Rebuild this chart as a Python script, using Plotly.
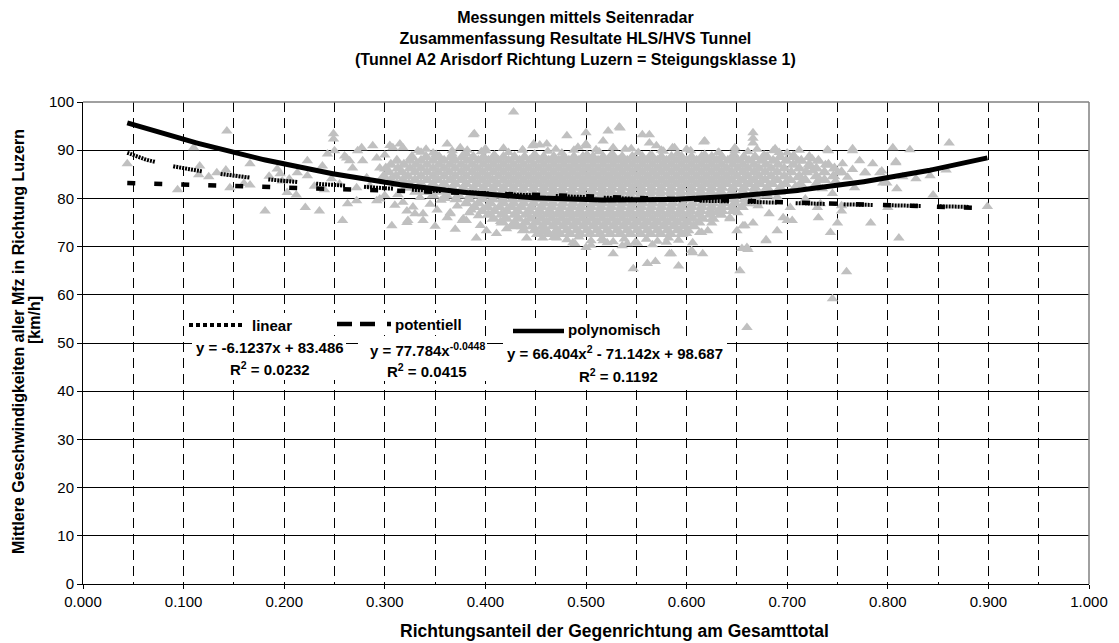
import numpy as np
import plotly.graph_objects as go

# ---------------------------------------------------------------------------
# Messwerte: Richtungsanteil der Gegenrichtung (x) und mittlere Geschwindigkeit
# aller Mfz in Richtung Luzern in km/h (y)
# ---------------------------------------------------------------------------

# vereinzelte Messungen links der Hauptwolke
punkte_links = [
    (0.044, 87.2), (0.094, 81.8), (0.110, 90.5), (0.115, 84.9), (0.116, 86.7),
    (0.125, 84.5), (0.133, 85.3), (0.142, 85.9), (0.143, 94.0), (0.146, 82.2),
    (0.160, 83.1), (0.166, 87.2), (0.166, 82.8), (0.181, 77.4), (0.185, 84.6),
    (0.193, 86.1), (0.196, 85.1), (0.198, 83.6), (0.203, 81.2), (0.205, 84.0),
    (0.212, 80.7), (0.213, 85.3), (0.221, 78.1), (0.223, 87.8), (0.223, 84.7),
    (0.230, 82.5), (0.235, 77.4), (0.238, 86.7), (0.240, 81.8), (0.243, 89.2),
    (0.247, 84.1), (0.249, 93.4), (0.249, 92.3), (0.250, 89.9), (0.255, 83.0),
    (0.258, 75.4), (0.260, 88.8), (0.262, 88.4), (0.263, 78.9), (0.265, 87.8),
    (0.268, 86.3), (0.272, 79.5), (0.272, 82.2), (0.273, 89.9), (0.277, 90.5),
    (0.278, 87.8), (0.282, 84.3), (0.285, 82.6), (0.288, 90.9), (0.292, 88.4),
    (0.292, 79.5), (0.295, 86.3), (0.295, 79.9), (0.300, 80.6), (0.300, 89.0),
    (0.305, 91.0),
]

# lockere Messungen unterhalb der Trendlinien zwischen 0.30 und 0.47
punkte_unten_links = [
    (0.307, 74.3), (0.310, 78.6), (0.313, 80.8), (0.318, 79.2), (0.322, 77.4),
    (0.322, 75.0), (0.323, 75.4), (0.328, 78.2), (0.330, 76.8), (0.335, 80.2),
    (0.338, 75.4), (0.338, 76.8), (0.345, 78.8), (0.345, 81.2), (0.350, 74.2),
    (0.352, 77.6), (0.356, 79.6), (0.360, 80.0), (0.362, 76.0), (0.365, 76.8),
    (0.365, 77.0), (0.370, 73.6), (0.372, 78.4), (0.377, 75.4), (0.378, 75.8),
    (0.381, 75.4), (0.384, 77.0), (0.386, 77.6), (0.391, 71.8), (0.393, 76.4),
    (0.395, 74.4), (0.401, 73.3), (0.411, 72.7), (0.415, 75.2), (0.421, 73.7),
    (0.430, 74.3), (0.441, 71.8), (0.455, 73.0), (0.457, 71.8), (0.470, 72.6),
    (0.471, 71.8),
]

# obere Ausreisser ueber der Hauptwolke
punkte_oben = [
    (0.308, 90.5), (0.315, 91.3), (0.318, 90.5), (0.333, 89.9), (0.341, 90.2),
    (0.348, 89.4), (0.362, 91.3), (0.367, 89.2), (0.375, 90.5), (0.382, 90.0),
    (0.388, 93.2), (0.389, 93.4), (0.400, 89.9), (0.400, 90.3), (0.418, 90.4),
    (0.428, 97.9), (0.437, 90.0), (0.447, 90.9), (0.448, 91.3), (0.454, 91.1),
    (0.461, 91.3), (0.470, 90.2), (0.481, 93.0), (0.492, 90.6), (0.500, 93.6),
    (0.500, 90.9), (0.500, 91.3), (0.510, 90.1), (0.517, 91.9), (0.522, 94.0),
    (0.527, 90.5), (0.533, 94.8), (0.534, 94.6), (0.545, 90.3), (0.556, 93.2),
    (0.563, 93.2), (0.563, 91.5), (0.570, 90.9), (0.575, 90.0), (0.586, 90.5),
    (0.588, 90.5), (0.600, 90.2), (0.617, 91.7), (0.618, 91.9), (0.631, 89.4),
    (0.648, 89.9), (0.648, 90.5), (0.666, 93.6), (0.666, 92.5), (0.666, 91.5),
    (0.670, 90.2), (0.686, 89.9), (0.688, 90.3), (0.700, 89.4), (0.712, 90.0),
    (0.740, 90.1), (0.741, 89.9), (0.765, 90.3), (0.765, 89.9), (0.805, 90.5),
    (0.822, 90.1), (0.861, 91.5),
]

# oberer Rand der Hauptwolke
kern_rand_oben = [
    (0.336, 89.6), (0.351, 89.1), (0.367, 89.9), (0.381, 89.3), (0.396, 89.7),
    (0.409, 89.0), (0.423, 89.5), (0.437, 90.1), (0.449, 89.2), (0.462, 89.8),
    (0.476, 89.4), (0.488, 90.0), (0.501, 89.1), (0.513, 89.7), (0.526, 89.3),
    (0.539, 90.2), (0.552, 89.5), (0.564, 89.0), (0.577, 89.8), (0.591, 89.3),
    (0.604, 89.9), (0.618, 89.1), (0.632, 89.6), (0.647, 89.2), (0.661, 89.7),
    (0.677, 89.0), (0.692, 89.5), (0.706, 88.9),
]

# unterer Rand der Hauptwolke
kern_rand_unten = [
    (0.468, 71.9), (0.481, 71.4), (0.493, 72.0), (0.505, 71.2), (0.516, 71.7),
    (0.527, 71.0), (0.538, 71.6), (0.549, 70.9), (0.560, 71.5), (0.571, 71.1),
    (0.582, 71.8), (0.592, 71.3), (0.489, 70.6), (0.505, 70.3), (0.521, 70.8),
    (0.536, 70.2), (0.551, 70.7), (0.566, 70.4), (0.580, 70.9),
]

# lockere Messungen rechts oberhalb der Polynomkurve
punkte_rechts = [
    (0.710, 84.3), (0.711, 87.8), (0.722, 86.6), (0.725, 88.2), (0.725, 85.7),
    (0.732, 84.0), (0.735, 82.0), (0.738, 87.0), (0.745, 81.0), (0.748, 83.6),
    (0.750, 85.3), (0.755, 87.2), (0.760, 84.4), (0.765, 86.0), (0.767, 82.2),
    (0.772, 87.8), (0.777, 85.3), (0.778, 85.3), (0.785, 87.2), (0.792, 85.3),
    (0.794, 85.7), (0.795, 83.2), (0.799, 83.2), (0.808, 87.4), (0.808, 87.6),
    (0.809, 82.0), (0.815, 84.5), (0.828, 84.1), (0.842, 84.7), (0.845, 80.7),
    (0.858, 85.9),
]

# untere Ausreisser zwischen 0.48 und 0.90
punkte_unten_rechts = [
    (0.487, 70.8), (0.500, 69.8), (0.517, 71.2), (0.527, 68.5), (0.541, 70.6),
    (0.547, 65.4), (0.561, 66.5), (0.569, 66.9), (0.583, 68.5), (0.585, 68.5),
    (0.592, 66.0), (0.600, 72.7), (0.605, 69.2), (0.606, 70.8), (0.606, 68.7),
    (0.613, 72.9), (0.615, 72.9), (0.616, 68.5), (0.621, 73.3), (0.625, 74.9),
    (0.630, 77.0), (0.638, 79.0), (0.643, 75.8), (0.643, 76.0), (0.650, 73.3),
    (0.651, 77.0), (0.653, 65.0), (0.655, 69.6), (0.656, 74.3), (0.658, 74.3),
    (0.660, 69.8), (0.660, 53.2), (0.660, 80.0), (0.661, 69.4), (0.666, 74.9),
    (0.670, 78.9), (0.671, 78.5), (0.679, 71.2), (0.679, 71.4), (0.682, 76.8),
    (0.690, 73.3), (0.690, 80.3), (0.696, 76.0), (0.700, 75.4), (0.703, 78.1),
    (0.705, 75.4), (0.718, 79.9), (0.730, 78.1), (0.731, 76.0), (0.733, 78.9),
    (0.743, 72.9), (0.745, 59.2), (0.750, 74.9), (0.754, 77.4), (0.754, 78.5),
    (0.759, 64.8), (0.783, 74.9), (0.800, 78.1), (0.811, 71.8), (0.899, 78.3),
]

# dichter Kern der Messwolke, zeilenweise: Geschwindigkeit der Zeile ...
kern_v = [88.6, 87.8, 87.0, 86.2, 85.4, 84.6, 83.8, 83.0, 82.2, 81.4, 80.6,
          79.8, 79.0, 78.2, 77.4, 76.6, 75.8, 75.0, 74.2, 73.4, 72.6]
# ... und die Richtungsanteile der Messungen in dieser Zeile
kern_anteil = [
    [0.327, 0.341, 0.354, 0.366, 0.377, 0.388, 0.398, 0.408, 0.418, 0.429, 0.439, 0.449,
     0.458, 0.468, 0.478, 0.488, 0.497, 0.507, 0.517, 0.527, 0.536, 0.546, 0.556, 0.566,
     0.575, 0.585, 0.595, 0.605, 0.615, 0.625, 0.635, 0.646, 0.657, 0.668, 0.680, 0.693,
     0.707, 0.722],
    [0.312, 0.325, 0.336, 0.348, 0.359, 0.370, 0.382, 0.393, 0.403, 0.413, 0.423, 0.434,
     0.444, 0.454, 0.463, 0.473, 0.483, 0.493, 0.502, 0.512, 0.522, 0.532, 0.541, 0.551,
     0.561, 0.571, 0.580, 0.590, 0.600, 0.610, 0.620, 0.630, 0.641, 0.651, 0.662, 0.674,
     0.686, 0.699, 0.714, 0.731],
    [0.306, 0.319, 0.331, 0.342, 0.354, 0.365, 0.376, 0.387, 0.398, 0.408, 0.418, 0.428,
     0.438, 0.448, 0.458, 0.468, 0.478, 0.488, 0.497, 0.507, 0.517, 0.527, 0.537, 0.546,
     0.556, 0.566, 0.576, 0.585, 0.595, 0.605, 0.615, 0.625, 0.635, 0.646, 0.656, 0.667,
     0.679, 0.691, 0.706, 0.722, 0.741],
    [0.301, 0.313, 0.325, 0.336, 0.348, 0.359, 0.370, 0.381, 0.392, 0.403, 0.413, 0.423,
     0.433, 0.443, 0.453, 0.463, 0.473, 0.483, 0.492, 0.502, 0.512, 0.522, 0.532, 0.541,
     0.551, 0.561, 0.571, 0.580, 0.590, 0.600, 0.610, 0.620, 0.630, 0.640, 0.651, 0.661,
     0.672, 0.684, 0.697, 0.712, 0.729, 0.747],
    [0.304, 0.317, 0.330, 0.342, 0.353, 0.364, 0.376, 0.387, 0.397, 0.408, 0.418, 0.428,
     0.438, 0.448, 0.458, 0.468, 0.478, 0.487, 0.497, 0.507, 0.517, 0.527, 0.536, 0.546,
     0.556, 0.566, 0.575, 0.585, 0.595, 0.605, 0.615, 0.625, 0.635, 0.645, 0.656, 0.667,
     0.678, 0.690, 0.704, 0.719, 0.737, 0.754],
    [0.299, 0.311, 0.323, 0.336, 0.348, 0.359, 0.370, 0.381, 0.392, 0.402, 0.413, 0.423,
     0.433, 0.443, 0.453, 0.463, 0.473, 0.482, 0.492, 0.502, 0.512, 0.522, 0.531, 0.541,
     0.551, 0.561, 0.570, 0.580, 0.590, 0.600, 0.610, 0.620, 0.630, 0.640, 0.650, 0.661,
     0.672, 0.684, 0.697, 0.712, 0.729, 0.746],
    [0.306, 0.318, 0.330, 0.342, 0.353, 0.365, 0.376, 0.387, 0.397, 0.407, 0.418, 0.428,
     0.438, 0.448, 0.458, 0.468, 0.477, 0.487, 0.497, 0.507, 0.517, 0.526, 0.536, 0.546,
     0.556, 0.565, 0.575, 0.585, 0.595, 0.605, 0.615, 0.625, 0.635, 0.645, 0.656, 0.667,
     0.678, 0.690, 0.703, 0.718, 0.737],
    [0.312, 0.324, 0.336, 0.348, 0.359, 0.370, 0.381, 0.392, 0.402, 0.412, 0.423, 0.433,
     0.443, 0.453, 0.463, 0.472, 0.482, 0.492, 0.502, 0.512, 0.521, 0.531, 0.541, 0.551,
     0.560, 0.570, 0.580, 0.590, 0.600, 0.610, 0.620, 0.630, 0.640, 0.651, 0.662, 0.673,
     0.685, 0.698, 0.713, 0.729],
    [0.321, 0.333, 0.345, 0.356, 0.367, 0.378, 0.388, 0.398, 0.408, 0.418, 0.428, 0.438,
     0.448, 0.458, 0.467, 0.477, 0.487, 0.497, 0.507, 0.516, 0.526, 0.536, 0.546, 0.555,
     0.565, 0.575, 0.585, 0.595, 0.605, 0.615, 0.625, 0.635, 0.646, 0.657, 0.668, 0.680,
     0.693, 0.708],
    [0.331, 0.343, 0.355, 0.366, 0.377, 0.387, 0.397, 0.407, 0.417, 0.427, 0.437, 0.447,
     0.457, 0.467, 0.476, 0.486, 0.496, 0.506, 0.516, 0.525, 0.535, 0.545, 0.555, 0.565,
     0.574, 0.584, 0.594, 0.604, 0.614, 0.624, 0.634, 0.645, 0.656, 0.667, 0.679, 0.692],
    [0.348, 0.361, 0.373, 0.385, 0.396, 0.406, 0.416, 0.426, 0.436, 0.446, 0.456, 0.466,
     0.476, 0.485, 0.495, 0.505, 0.515, 0.525, 0.534, 0.544, 0.554, 0.564, 0.574, 0.584,
     0.594, 0.604, 0.614, 0.624, 0.634, 0.645, 0.656, 0.668, 0.680],
    [0.371, 0.384, 0.397, 0.407, 0.417, 0.427, 0.437, 0.447, 0.457, 0.466, 0.476, 0.486,
     0.496, 0.506, 0.515, 0.525, 0.535, 0.545, 0.555, 0.565, 0.575, 0.585, 0.595, 0.605,
     0.615, 0.625, 0.636, 0.647, 0.658, 0.669],
    [0.381, 0.393, 0.405, 0.418, 0.428, 0.438, 0.448, 0.458, 0.467, 0.477, 0.487, 0.497,
     0.507, 0.516, 0.526, 0.536, 0.546, 0.556, 0.566, 0.576, 0.586, 0.596, 0.606, 0.616,
     0.626, 0.637, 0.648, 0.660],
    [0.389, 0.402, 0.414, 0.426, 0.436, 0.446, 0.456, 0.466, 0.476, 0.486, 0.495, 0.505,
     0.515, 0.525, 0.535, 0.545, 0.555, 0.565, 0.575, 0.585, 0.595, 0.605, 0.615, 0.625,
     0.635, 0.645, 0.655],
    [0.397, 0.409, 0.421, 0.432, 0.444, 0.454, 0.464, 0.474, 0.484, 0.494, 0.504, 0.514,
     0.524, 0.534, 0.544, 0.554, 0.564, 0.574, 0.584, 0.594, 0.604, 0.614, 0.624, 0.635,
     0.646],
    [0.403, 0.416, 0.429, 0.440, 0.451, 0.461, 0.471, 0.481, 0.491, 0.501, 0.511, 0.521,
     0.531, 0.541, 0.551, 0.561, 0.571, 0.581, 0.591, 0.601, 0.612, 0.623, 0.634],
    [0.408, 0.421, 0.433, 0.445, 0.456, 0.466, 0.476, 0.486, 0.496, 0.506, 0.516, 0.526,
     0.536, 0.546, 0.556, 0.566, 0.576, 0.586, 0.596, 0.606, 0.616, 0.626],
    [0.417, 0.429, 0.440, 0.451, 0.461, 0.471, 0.481, 0.491, 0.501, 0.511, 0.521, 0.531,
     0.541, 0.551, 0.561, 0.571, 0.581, 0.591, 0.601, 0.612],
    [0.426, 0.437, 0.447, 0.457, 0.467, 0.477, 0.487, 0.497, 0.507, 0.517, 0.527, 0.537,
     0.547, 0.557, 0.567, 0.577, 0.587, 0.597, 0.607],
    [0.438, 0.449, 0.460, 0.471, 0.481, 0.491, 0.501, 0.511, 0.521, 0.531, 0.541, 0.551,
     0.561, 0.571, 0.581, 0.591, 0.601],
    [0.452, 0.463, 0.474, 0.484, 0.494, 0.504, 0.514, 0.524, 0.534, 0.544, 0.554, 0.564,
     0.574, 0.584, 0.595],
]

# Ausgleichskurven mit den angegebenen Koeffizienten
lin_a, lin_b = -6.1237, 83.486               # y = a*x + b
pot_a, pot_b = 77.784, -0.0448               # y = a*x^b
poly_a, poly_b, poly_c = 66.404, -71.142, 98.687   # y = a*x^2 + b*x + c
r2_lin, r2_pot, r2_poly = 0.0232, 0.0415, 0.1192

# Achsenteilung
x_ticks = [0.0, 0.1, 0.2, 0.3, 0.4, 0.5, 0.6, 0.7, 0.8, 0.9, 1.0]
y_ticks = [0, 10, 20, 30, 40, 50, 60, 70, 80, 90, 100]

# ---------------------------------------------------------------------------
FONT = "Liberation Sans, Arial, Helvetica, sans-serif"
GRAU = "#C0C0C0"

# Einzelpunkte
einzel_x, einzel_y = [], []
for liste in (punkte_links, punkte_unten_links, punkte_oben, kern_rand_oben,
              kern_rand_unten, punkte_rechts, punkte_unten_rechts):
    for ax_, v_ in liste:
        einzel_x.append(ax_)
        einzel_y.append(v_)
# Kernpunkte
kern_x, kern_y = [], []
for v_, zeile in zip(kern_v, kern_anteil):
    for ax_ in zeile:
        kern_x.append(ax_)
        kern_y.append(v_)

alle_x = einzel_x + kern_x
xt = np.linspace(min(alle_x), max(alle_x), 300)
y_lin = lin_a * xt + lin_b
y_pot = pot_a * xt ** pot_b
y_poly = poly_a * xt ** 2 + poly_b * xt + poly_c

# Punktmuster fuer die Potenzkurve: Gruppen feiner Punkte, dann eine Luecke
pot_dash = ",".join(["2px,1px"] * 9 + ["2px,19px"])

fig = go.Figure()
# der Kern liegt so dicht, dass sich die Dreiecke lueckenlos ueberdecken
fig.add_trace(go.Scatter(
    x=kern_x, y=kern_y, mode="markers",
    marker=dict(symbol="triangle-up", size=12, color=GRAU, line=dict(width=0)),
    hoverinfo="skip", showlegend=False))
fig.add_trace(go.Scatter(
    x=einzel_x, y=einzel_y, mode="markers",
    marker=dict(symbol="triangle-up", size=10, color=GRAU, line=dict(width=0)),
    hoverinfo="skip", showlegend=False))
fig.add_trace(go.Scatter(
    x=xt, y=y_lin, mode="lines",
    line=dict(color="black", width=4.5, dash="8px,19px"),
    hoverinfo="skip", showlegend=False))
fig.add_trace(go.Scatter(
    x=xt, y=y_pot, mode="lines",
    line=dict(color="black", width=4, dash=pot_dash),
    hoverinfo="skip", showlegend=False))
fig.add_trace(go.Scatter(
    x=xt, y=y_poly, mode="lines",
    line=dict(color="black", width=5),
    hoverinfo="skip", showlegend=False))

# Zeichenflaeche in Pixeln (links, rechts, oben, unten)
L, R, T, B = 83, 1089, 102, 584
W, H = 1119, 643


def px(v):
    return (v - L) / (R - L)


def py(v):
    return (B - v) / (B - T)


shapes = []
# weisse Textfelder fuer Legende und Gleichungen
for x0, y0, x1, y1 in [(187, 313, 294, 336), (192, 336, 346, 380),
                       (334, 313, 466, 335), (358, 336, 487, 381),
                       (509, 318, 668, 340), (503, 340, 727, 386)]:
    shapes.append(dict(type="rect", xref="paper", yref="paper",
                       x0=px(x0), x1=px(x1), y0=py(y1), y1=py(y0),
                       fillcolor="white", line=dict(width=0), layer="above"))
# Linienmuster in der Beschriftung
shapes.append(dict(type="line", xref="paper", yref="paper",
                   x0=px(189), x1=px(243), y0=py(325), y1=py(325),
                   line=dict(color="black", width=4, dash="4px,3px"), layer="above"))
shapes.append(dict(type="line", xref="paper", yref="paper",
                   x0=px(337), x1=px(391), y0=py(324), y1=py(324),
                   line=dict(color="black", width=4.5, dash="15px,8px,15px,12px,4px,60px"),
                   layer="above"))
shapes.append(dict(type="line", xref="paper", yref="paper",
                   x0=px(513), x1=px(564), y0=py(331), y1=py(331),
                   line=dict(color="black", width=4.5), layer="above"))
# grauer Rahmen oben und rechts
shapes.append(dict(type="line", xref="paper", yref="paper", x0=0, x1=1, y0=1, y1=1,
                   line=dict(color="#808080", width=1.5), layer="above"))
shapes.append(dict(type="line", xref="paper", yref="paper", x0=1, x1=1, y0=0, y1=1,
                   line=dict(color="#808080", width=1.5), layer="above"))


def txt(text, x, y, size=15, xanchor="center", bold=True, angle=0):
    return dict(text=text, xref="paper", yref="paper", x=px(x), y=py(y),
                xanchor=xanchor, yanchor="middle", showarrow=False, textangle=angle,
                font=dict(family=FONT, size=size, color="black",
                          weight="bold" if bold else "normal"))


annotations = [
    txt("Messungen mittels Seitenradar<br>Zusammenfassung Resultate HLS/HVS Tunnel<br>"
        "(Tunnel A2 Arisdorf Richtung Luzern = Steigungsklasse 1)", 575, 38, size=16),
    txt("Richtungsanteil der Gegenrichtung am Gesamttotal", 614, 631, size=17.5),
    txt("Mittlere Geschwindigkeiten aller Mfz in Richtung Luzern", 18, 342, size=16, angle=-90),
    txt("[km/h]", 34, 320, size=16, angle=-90),
    txt("linear", 250, 325, xanchor="left"),
    txt("y = %.4fx + %.3f" % (lin_a, lin_b), 270, 347),
    txt("R<sup>2</sup> = %.4f" % r2_lin, 270, 368),
    txt("potentiell", 393, 324, xanchor="left"),
    txt("y = %.3fx<sup>%.4f</sup>" % (pot_a, pot_b), 427, 349),
    txt("R<sup>2</sup> = %.4f" % r2_pot, 427, 370),
    txt("polynomisch", 566, 329, xanchor="left"),
    txt("y = %.3fx<sup>2</sup> - %.3fx + %.3f" % (poly_a, -poly_b, poly_c), 615, 352),
    txt("R<sup>2</sup> = %.4f" % r2_poly, 618, 375),
]

fig.update_layout(
    width=W, height=H, autosize=False,
    margin=dict(l=L, r=W - R, t=T, b=H - B, pad=0),
    paper_bgcolor="white", plot_bgcolor="white",
    font=dict(family=FONT, size=15, color="black"),
    shapes=shapes, annotations=annotations, showlegend=False,
    xaxis=dict(range=[0, 1], tickmode="array", tickvals=x_ticks,
               ticktext=["%.3f" % t for t in x_ticks],
               showgrid=True, gridcolor="black", gridwidth=1, griddash="10px,6px",
               minor=dict(tickmode="linear", tick0=0, dtick=0.05, showgrid=True,
                          gridcolor="black", gridwidth=1, griddash="10px,6px"),
               showline=True, linecolor="black", linewidth=1,
               ticks="outside", ticklen=4, tickcolor="black",
               zeroline=False, tickfont=dict(family=FONT, size=15)),
    yaxis=dict(range=[0, 100], tickmode="array", tickvals=y_ticks,
               ticktext=[str(t) for t in y_ticks],
               showgrid=True, gridcolor="black", gridwidth=1,
               showline=True, linecolor="black", linewidth=1,
               ticks="outside", ticklen=5, tickcolor="black",
               zeroline=False, tickfont=dict(family=FONT, size=15)),
)

fig.write_html("out.html", config={"displayModeBar": False})
